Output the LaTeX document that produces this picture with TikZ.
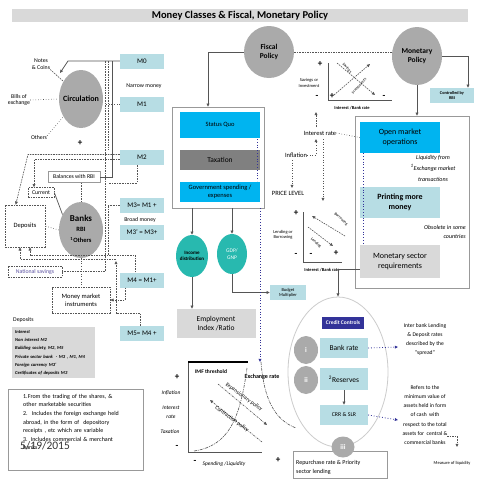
\documentclass[tikz,border=0pt]{standalone}
\usepackage{fontspec}
\setmainfont{Carlito}
\usetikzlibrary{arrows.meta,shapes.geometric,calc}
\definecolor{lteal}{RGB}{183,221,228}
\definecolor{cyanb}{RGB}{0,180,240}
\definecolor{cgray}{RGB}{170,170,170}
\definecolor{tealc}{RGB}{40,185,175}
\definecolor{navyb}{RGB}{51,51,153}
\definecolor{lgray}{RGB}{217,217,217}
\definecolor{lnc}{RGB}{85,85,85}
\definecolor{natc}{RGB}{90,80,160}
\begin{document}
\begin{tikzpicture}[x=1pt,y=-1pt,
 conn/.style={draw=lnc, line width=0.7pt},
 arr/.style={-{Triangle[length=3.2pt,width=2.8pt]}},
 dsh/.style={draw=lnc, line width=0.6pt, dash pattern=on 1.6pt off 1pt},
 dtn/.style={draw=navyb, line width=0.8pt, dotted},
 dtg/.style={draw=lnc, line width=0.6pt, dotted},
 mbox/.style={fill=lteal, minimum width=44pt, minimum height=15pt, inner sep=0pt, font=\fontsize{7}{8}\selectfont},
 gcirc/.style={ellipse, fill=cgray, inner sep=0pt},
 f4/.style={font=\fontsize{4.5}{5.4}\selectfont, align=center, inner sep=0pt},
 f5/.style={font=\fontsize{5.8}{6.8}\selectfont, align=center, inner sep=0pt},
 f6/.style={font=\fontsize{6.5}{7.8}\selectfont, align=center, inner sep=0pt},
 f8/.style={font=\fontsize{8}{9.6}\selectfont, align=center, inner sep=0pt},
 pm/.style={font=\bfseries\fontsize{9}{9}\selectfont, inner sep=0pt},
 wbox/.style={draw=lnc!60, line width=0.6pt},
]
\fill[white] (0,0) rectangle (480,480);
\useasboundingbox (0,0) rectangle (480,480);

% title
\node[fill=lgray, minimum width=456pt, minimum height=13pt, inner sep=0pt] (tbar) at (240,15.5) {};
\node[font=\bfseries\fontsize{10.5}{12}\selectfont, inner sep=0pt] (title) at (240,15.5) {Money Classes \& Fiscal, Monetary Policy};

% M boxes
\node[mbox] (m0) at (142,61) {M0};
\node[f5] (narrow) at (144,86) {Narrow money};
\node[mbox] (m1) at (142,104.5) {M1};
\node[mbox] (m2) at (142,157.5) {M2};
\node[mbox] (m3) at (142,205) {M3= M1 +};
\node[f5] (broad) at (140,220) {Broad money};
\node[mbox] (m3p) at (142,232) {M3' = M3+};
\node[mbox] (m4) at (142,280) {M4 = M1+};
\node[mbox] (m5) at (142,333.5) {M5= M4 +};

% circulation
\node[gcirc, minimum width=44pt, minimum height=58pt] (circ) at (81,99) {};
\node[font=\bfseries\fontsize{8}{9}\selectfont, inner sep=0pt] (circt) at (circ) {Circulation};
\node[f5] (notes) at (41,64) {Notes\\\& Coins};
\node[f5] (bills) at (19,100) {Bills of\\exchange};
\node[f5] (others) at (39,138) {Others};
\node[pm] (plus1) at (80,143) {+};
\coordinate (nc) at (60,73);
\draw[conn,arr] (m0.west) -- (68,61) -- (nc);
\draw[dsh] (notes.south east) -- (circ.135);
\draw[dtg] (bills.east) -- (circ.west);
\draw[dtg] (others.north east) -- (circ.225);

% banks
\node[gcirc, minimum width=44pt, minimum height=56pt] (banks) at (81,230) {};
\node[font=\bfseries\fontsize{9}{10}\selectfont, inner sep=0pt] (bk1) at (81,218) {Banks};
\node[font=\bfseries\fontsize{6.5}{7}\selectfont, inner sep=0pt] (bk2) at (81,229) {RBI};
\node[font=\bfseries\fontsize{6.5}{7}\selectfont, inner sep=0pt] (bk3) at (81,240) {\textsuperscript{1}Others};
\node[wbox, f5, minimum width=52pt, minimum height=11pt] (bal) at (74,177) {Balances with RBI};
\node[dsh, f5, minimum width=26pt, minimum height=10pt] (cur) at (41,192.5) {Current};
\node[dsh, f6, minimum width=40pt, minimum height=42pt] (dep) at (25,226) {Deposits};
\node[dsh, f5, text=natc, minimum width=54pt, minimum height=11pt] (nat) at (35,271.5) {National savings};
\node[dsh, f6, minimum width=58pt, minimum height=26pt] (mmi) at (81,300) {Money market\\instruments};

% left connectors
\draw[conn] (112,61) |- (bal.east);
\draw[dsh] (105,61) |- (nat.east);
\draw[dsh] (108,61) -- (108,150);
\draw[dtg] (m1.west) -- (105,104.5);
\draw[dsh,arr] ($(m2.west)+(0,-3)$) -- (28,154.5) -- ($(dep.north west)+(11,0)$);
\draw[dsh,arr] ($(m2.west)+(0,2)$) -- (34,159.5) -- ($(cur.north)+(-7,0)$);
\draw[dsh] ($(m2.south)+(-5,0)$) |- (108,183);
\draw[dsh] (m3.west) -- (108,205) -- (108,255);
\draw[dsh,arr] ($(m4.north)+(-7,0)$) |- (30,255) -- ($(dep.south)+(5,0)$);
\draw[dsh,arr] (116,259) -- (20,259) -- ($(dep.south)+(-5,0)$);
\draw[dsh,arr] ($(m5.north)+(-2,0)$) |- (116,313) -- (116,261);
\draw[dsh,arr] ($(m4.south)+(-17,0)$) |- (mmi.east);
\draw[dtg] (banks.west) -- (dep.east);
\draw[dtg] (banks.south) -- (mmi.north);
\draw[dsh] (banks.north |- bal.south) -- (banks.north);
\draw[conn] (cur.east) -- (banks.140);

% deposits note
\node[f5, anchor=west] (depl) at (13,320) {Deposits};
\node[fill=lgray, anchor=north west, text width=77pt, inner sep=3pt, align=left, font=\bfseries\itshape\fontsize{4.6}{8.3}\selectfont] (depnote) at (12,327) {Interest\\Non interest M2\\Building society, M2, M5\\Private sector bank\ \ - M3 , M1, M4\\Foreign currency M3'\\Certificates of deposits M3};

% footnote
\node[wbox, anchor=north west, minimum width=135pt, minimum height=81pt, inner sep=0pt] (foot) at (8,389) {};
\node[anchor=north west, text width=122pt, inner sep=0pt, align=left, font=\fontsize{6}{8.6}\selectfont] (foottxt) at (23,394) {1.From the trading of the shares, \&\\other marketable securities\\2.\ \ Includes the foreign exchange held\\abroad, in the form of\ \ depository\\receipts , etc which are variable\\3. Includes commercial \& merchant\\banks};
\node[font=\fontsize{11.5}{13}\selectfont, text=black!80, inner sep=0pt] (date) at (45,446) {5/19/2015};

% fiscal
\node[gcirc, minimum width=50pt, minimum height=52pt] (fiscal) at (269,52) {};
\node[font=\bfseries\fontsize{7.5}{9}\selectfont, align=center, inner sep=0pt] (fiscalt) at (fiscal) {Fiscal\\Policy};
\node[gcirc, minimum width=50pt, minimum height=58pt] (mon) at (417,56) {};
\node[font=\bfseries\fontsize{7.5}{9}\selectfont, align=center, inner sep=0pt] (mont) at (mon) {Monetary\\Policy};
\draw[dsh] (fiscal.east) -- (fiscal.east -| mon.west);
\node[fill=lteal, minimum width=44pt, minimum height=15pt, inner sep=0pt, font=\bfseries\fontsize{4.3}{5}\selectfont, align=center] (ctrl) at (452,95.5) {Controlled by\\RBI};
\draw[conn,arr] (mon.east) -| ($(ctrl.north)+(16,0)$);

% fiscal box
\node[wbox, minimum width=92pt, minimum height=101pt, inner sep=0pt] (fbox) at (218,157.5) {};
\node[fill=cyanb, minimum width=80pt, minimum height=26pt, f6] (sq) at (220,125) {Status Quo};
\node[fill=black!50, minimum width=80pt, minimum height=20pt, font=\fontsize{7.5}{9}\selectfont, inner sep=0pt] (tax) at (220,160) {Taxation};
\node[fill=cyanb, minimum width=80pt, minimum height=20pt, f6] (gov) at (220,191.5) {Government spending /\\expenses};
\draw[dtn] (257,139) -- (257,181);
\draw[conn,arr] (fiscal.west) -| ($(fbox.north)+(-10,0)$);

\node[ellipse, fill=tealc, minimum width=32pt, minimum height=42pt, inner sep=0pt] (inc) at (192,256) {};
\node[font=\bfseries\fontsize{5}{6}\selectfont, align=center, inner sep=0pt] (inct) at (inc) {Income\\distribution};
\node[ellipse, fill=tealc, minimum width=30pt, minimum height=40pt, inner sep=0pt] (gdp) at (232,254) {};
\node[font=\fontsize{5.5}{6.6}\selectfont, align=center, inner sep=0pt, text=white] (gdpt) at (gdp) {GDP/\\GNP};
\draw[conn,arr] (inc.north |- fbox.south) -- (inc.north);
\draw[conn,arr] (gdp.north |- fbox.south) -- (gdp.north);
\node[fill=lgray, minimum width=79pt, minimum height=29pt, font=\fontsize{7.5}{9}\selectfont, align=center, inner sep=0pt] (emp) at (216,323.5) {Employment\\Index /Ratio};
\draw[conn,arr] (inc.south) -- (inc.south |- emp.north);
\node[fill=lteal, minimum width=36pt, minimum height=15pt, f4] (budget) at (288,292.5) {Budget\\Multiplier};
\draw[conn,arr] (gdp.south) |- (budget.west);
\coordinate (exa) at (260,362);
\draw[dtn,arr] (260,208) -- (exa);

% savings chart
\draw[conn, line width=0.6pt] (328,63) -- (328,100) -- (392,100);
\node[pm] (sp1) at (320,64) {+};
\node[f4] (savl) at (309,83) {Savings or\\Investment};
\node[pm] (sm1) at (317,97) {-};
\node[pm] (sp2) at (332,96) {+};
\node[pm] (sm2) at (384,97) {-};
\node[f4, font=\bfseries\fontsize{4.5}{5.4}\selectfont] (sir) at (352,108) {Interest /Bank rate};
\coordinate (s1) at (337,63); \coordinate (s2) at (375,95);
\coordinate (i1) at (334,95); \coordinate (i2) at (370,64);
\draw[dsh,arr] (s1) -- (s2);
\draw[dsh,arr] (i1) -- (i2);
\node[f4, font=\fontsize{4}{5}\selectfont, rotate=-50] (savt) at (347,68) {Savings};
\node[f4, font=\fontsize{4}{5}\selectfont, rotate=48] (invt) at (359,86) {Investments};

% interest / inflation
\node[f6] (irate) at (320,133) {Interest rate};
\node[f6] (infl) at (296,155) {Inflation};
\node[f6] (price) at (288,193) {PRICE LEVEL};
\coordinate (iu) at (316,112);
\draw[dsh,arr] (316,127) -- (iu);
\draw[dtg,arr] (infl.east) -| (316,139);
\draw[dtg,arr] (292,160) -- (292,188);
\draw[dtg,arr] (323,139) -- (323,201);

% lending chart
\draw[conn, line width=0.6pt] (303,212) -- (303,262) -- (342,262);
\node[pm] (lp1) at (296,213) {+};
\node[f4] (lendl) at (283,235) {Lending or\\Borrowing};
\node[pm] (lm1) at (296,255) {-};
\node[pm] (lm2) at (311,255) {-};
\node[pm] (lp2) at (336,253) {+};
\node[f4, font=\bfseries\fontsize{4.5}{5.4}\selectfont] (lir) at (322,270) {Interest /Bank rate};
\coordinate (b1) at (345,236); \coordinate (b2) at (312,216);
\coordinate (l1) at (308,227); \coordinate (l2) at (333,246);
\draw[dsh,arr] (b1) -- (b2);
\draw[dsh,arr] (l1) -- (l2);
\node[f4, font=\fontsize{4}{5}\selectfont, rotate=-42] (bort) at (341,219) {Borrowing};
\node[f4, font=\fontsize{4}{5}\selectfont, rotate=-42] (lent) at (316,243) {Lending};

% monetary box
\node[wbox, minimum width=114pt, minimum height=172pt, inner sep=0pt] (mbx) at (412,202) {};
\draw[conn,arr] (mon.south) -- (mon.south |- mbx.north);
\node[fill=cyanb, minimum width=80pt, minimum height=31pt, f8] (omo) at (400,137.5) {Open market\\operations};
\draw[dtg] (irate.east) -- (omo.west);
\node[font=\itshape\fontsize{6}{11}\selectfont, align=center, inner sep=0pt] (liq) at (433,168) {Liquidity from\\\textsuperscript{1}Exchange market\\transactions};
\node[fill=lteal, minimum width=80pt, minimum height=31pt, font=\bfseries\fontsize{8}{10}\selectfont, align=center, inner sep=0pt] (print) at (400,202.5) {Printing more\\money};
\node[font=\itshape\fontsize{6}{9}\selectfont, align=right, inner sep=0pt, anchor=east] (obs) at (466,232) {Obsolete in some\\countries};
\node[fill=lgray, minimum width=80pt, minimum height=33pt, f8] (msr) at (400,261.5) {Monetary sector\\requirements};
\draw[dtn] ($(omo.south west)+(4,0)$) -- ($(msr.north west)+(4,0)$);

% credit controls
\node[ellipse, draw=black!20, line width=0.8pt, minimum width=100pt, minimum height=150pt, inner sep=0pt] (credit) at (338,372) {};
\draw[conn,arr] ($(msr.west)+(0,8)$) -| (credit.north);
\node[fill=navyb, minimum width=42pt, minimum height=12pt, inner sep=0pt, text=white, font=\bfseries\fontsize{5.5}{6}\selectfont] (cc) at (343,322.5) {Credit Controls};
\node[gcirc, minimum width=24pt, minimum height=28pt] (ci) at (306,350) {};
\node[text=white, font=\bfseries\fontsize{7}{8}\selectfont, inner sep=0pt] (cit) at (ci) {i};
\node[gcirc, minimum width=24pt, minimum height=28pt] (cii) at (306,380) {};
\node[text=white, font=\bfseries\fontsize{7}{8}\selectfont, inner sep=0pt] (ciit) at (cii) {ii};
\node[fill=lteal, minimum width=48pt, minimum height=20pt, inner sep=0pt, font=\fontsize{7.5}{9}\selectfont] (brate) at (344,348) {Bank rate};
\node[fill=lteal, minimum width=48pt, minimum height=22pt, inner sep=0pt, font=\fontsize{7.5}{9}\selectfont] (res) at (344,379) {\textsuperscript{2}Reserves};
\node[fill=lteal, minimum width=48pt, minimum height=20pt, inner sep=0pt, font=\fontsize{5.8}{7}\selectfont] (crr) at (344,415) {CRR \& SLR};
\draw[conn,arr] (res.south) -- (crr.north);
\node[f5, font=\fontsize{5.6}{9}\selectfont] (inter) at (425,340) {Inter bank Lending\\\& Deposit rates\\described by the\\``spread''};
\node[f5, font=\fontsize{5.6}{9.3}\selectfont] (refers) at (425,415) {Refers to the\\minimum value of\\assets held in form\\of cash\ \ with\\respect to the total\\assets for\ \ central \&\\commercial banks};
\coordinate (br2) at (398,347);
\coordinate (cr2) at (398,420);
\draw[dtn,arr] (brate.east) -- (br2);
\draw[dtn,arr] (crr.east) -- (cr2);
\draw[dsh,arr] (447,436) -- (457,436) -- (457,447);
\node[f4] (meas) at (452,463) {Measure of liquidity};
\node[wbox, minimum width=94pt, minimum height=27pt, inner sep=0pt] (repo) at (340,464.5) {};
\node[anchor=west, align=left, inner sep=0pt, font=\fontsize{6}{9.5}\selectfont] (repot) at (296,467.5) {Repurchase rate \& Priority\\sector lending};
\node[gcirc, minimum width=23pt, minimum height=21pt] (ciii) at (343,447) {};
\node[text=white, font=\bfseries\fontsize{7}{8}\selectfont, inner sep=0pt] (ciiit) at (ciii) {iii};

% IMF chart
\draw[conn, line width=0.6pt] (188,362) -- (188,452) -- (262,452);
\draw[black, line width=1.3pt] (188,362) -- (248,362);
\node[font=\bfseries\fontsize{5.5}{6}\selectfont, inner sep=0pt] (imf) at (211,372) {IMF threshold};
\node[font=\bfseries\fontsize{6}{7}\selectfont, inner sep=0pt] (exr) at (262,377) {Exchange rate};
\node[pm] (ip1) at (177,377) {+};
\node[f5, font=\itshape\fontsize{5.5}{6.6}\selectfont] (iinf) at (171,393) {Inflation};
\node[f5, font=\itshape\fontsize{5.5}{9}\selectfont] (iint) at (171,412) {Interest\\rate};
\node[f5, font=\itshape\fontsize{5.5}{6.6}\selectfont] (itax) at (170,432) {Taxation};
\node[pm] (im1) at (177,447) {-};
\node[pm] (im2) at (195,462) {-};
\node[f5, font=\itshape\fontsize{5.5}{6.6}\selectfont] (ispend) at (224,464) {Spending /Liquidity};
\node[pm] (ip2) at (278,460) {+};
\draw[lnc, line width=0.6pt, dash pattern=on 3pt off 1pt on 0.8pt off 1pt] (194,451) .. controls (228,446) and (240,420) .. (247,368);
\draw[lnc, line width=0.6pt, dash pattern=on 3pt off 1pt on 0.8pt off 1pt] (261,362) .. controls (264,400) and (275,420) .. (296,428);
\coordinate (e1) at (218,384); \coordinate (e2) at (267,425);
\coordinate (c1) at (262,442); \coordinate (c2) at (210,400);
\draw[lnc, line width=0.6pt, dash pattern=on 2pt off 1pt on 0.6pt off 1pt, arr] (e1) -- (e2);
\draw[lnc, line width=0.6pt, dash pattern=on 2pt off 1pt on 0.6pt off 1pt, arr] (c1) -- (c2);
\node[font=\fontsize{5.5}{6}\selectfont, rotate=-36, inner sep=0pt] (expt) at (244,397) {Expansionary policy};
\node[font=\fontsize{5.5}{6}\selectfont, rotate=-36, inner sep=0pt] (cont) at (232,419) {Contraction policy};
\end{tikzpicture}
\end{document}
